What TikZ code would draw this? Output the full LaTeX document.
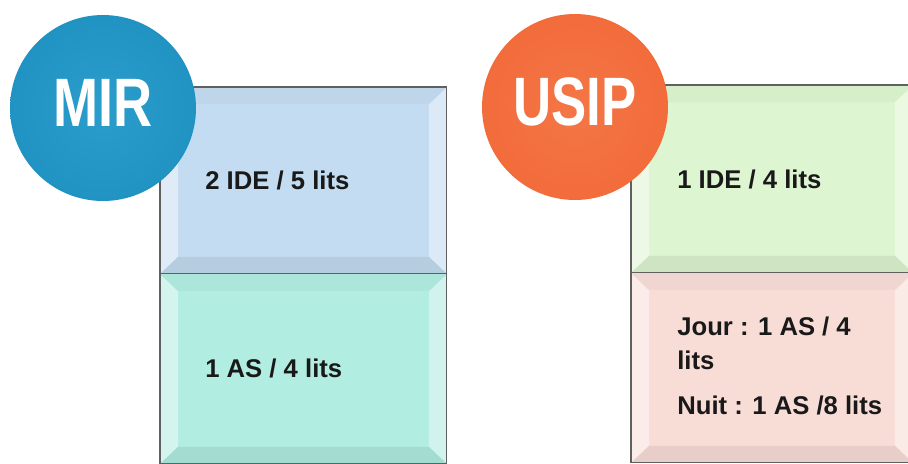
\documentclass[tikz,border=0pt]{standalone}
\usepackage{fontspec}
\setmainfont{Liberation Sans}
\usepackage{graphicx}
\usetikzlibrary{positioning}

\definecolor{mirBleu}{HTML}{1F92C2}
\definecolor{mirClair}{HTML}{2A9DCC}
\definecolor{mirBord}{HTML}{15739B}
\definecolor{usipOrange}{HTML}{F26A3A}
\definecolor{usipClair}{HTML}{F47646}
\definecolor{usipBord}{HTML}{E0702E}
\definecolor{caseBleu}{HTML}{C4DCF1}
\definecolor{caseTurquoise}{HTML}{B1EDE1}
\definecolor{caseVert}{HTML}{DEF5D1}
\definecolor{caseRose}{HTML}{F8DDD7}

% pastilles : fond plat, bord plus sombre
\pgfdeclareradialshading{pastilleMIR}{\pgfpoint{0bp}{0bp}}{color(0bp)=(mirClair); color(28bp)=(mirBleu); color(45bp)=(mirBleu); color(49bp)=(mirBord); color(50bp)=(mirBord)}
\pgfdeclareradialshading{pastilleUSIP}{\pgfpoint{0bp}{0bp}}{color(0bp)=(usipClair); color(28bp)=(usipOrange); color(45bp)=(usipOrange); color(49bp)=(usipBord); color(50bp)=(usipBord)}

\begin{document}
\begin{tikzpicture}[x=0.02cm,y=-0.02cm,
  boite/.style={draw=gray!75!black,line width=0.6pt,inner sep=0pt,outer sep=0pt,anchor=north west},
  pastille/.style={circle,minimum size=3.72cm,inner sep=0pt},
  titre/.style={inner sep=0pt,text=white,font=\fontsize{39}{39}\selectfont\bfseries},
  texte/.style={inner sep=0pt,anchor=west,align=left,text=black!90,font=\fontsize{14.6}{19.3}\selectfont\bfseries}]
  \clip (0,0) rectangle (908,463);
  \fill[white] (0,0) rectangle (908,463);

  % cases MIR
  \node[boite,fill=caseBleu,minimum width=5.74cm,minimum height=3.74cm] (mirIDE) at (160,87) {};
  \node[boite,fill=caseTurquoise,minimum width=5.74cm,minimum height=3.8cm,below=0pt of mirIDE] (mirAS) {};
  % cases USIP
  \node[boite,fill=caseVert,minimum width=5.64cm,minimum height=3.76cm] (usipIDE) at (631,85) {};
  \node[boite,fill=caseRose,minimum width=5.64cm,minimum height=3.8cm,below=0pt of usipIDE] (usipAS) {};

  % biseaux
  \foreach \b/\c in {mirIDE/caseBleu,mirAS/caseTurquoise,usipIDE/caseVert,usipAS/caseRose}{
    \fill[\c!55!white] (\b.north west) -- ([shift={(18,17)}]\b.north west) -- ([shift={(18,-17)}]\b.south west) -- (\b.south west) -- cycle;
    \fill[\c!60!white] (\b.north east) -- ([shift={(-18,17)}]\b.north east) -- ([shift={(-18,-17)}]\b.south east) -- (\b.south east) -- cycle;
    \fill[\c!97!black] (\b.north west) -- ([shift={(18,17)}]\b.north west) -- ([shift={(-18,17)}]\b.north east) -- (\b.north east) -- cycle;
    \fill[\c!93!black] (\b.south west) -- ([shift={(18,-17)}]\b.south west) -- ([shift={(-18,-17)}]\b.south east) -- (\b.south east) -- cycle;
    \draw[gray!75!black,line width=0.6pt] (\b.north west) rectangle (\b.south east);
  }

  \node[texte] (mirIDEtxt) at ([xshift=0.9cm]mirIDE.west) {2 IDE / 5 lits};
  \node[texte] (mirAStxt) at ([xshift=0.9cm]mirAS.west) {1 AS / 4 lits};
  \node[texte] (usipIDEtxt) at ([xshift=0.92cm]usipIDE.west) {1 IDE / 4 lits};
  \node[texte] (usipAStxt) at ([xshift=0.92cm,yshift=1pt]usipAS.west) {Jour : 1 AS / 4\\lits\\[6.5pt]Nuit : 1 AS /8 lits};

  % pastilles
  \node[pastille,shading=pastilleMIR] (mir) at (103,108) {};
  \node[titre] (mirTitre) at ([yshift=3pt]mir.center) {\scalebox{0.79}[1]{MIR}};
  \node[pastille,shading=pastilleUSIP] (usip) at (575,107) {};
  \node[titre] (usipTitre) at ([yshift=3pt]usip.center) {\scalebox{0.77}[1]{USIP}};
\end{tikzpicture}
\end{document}
